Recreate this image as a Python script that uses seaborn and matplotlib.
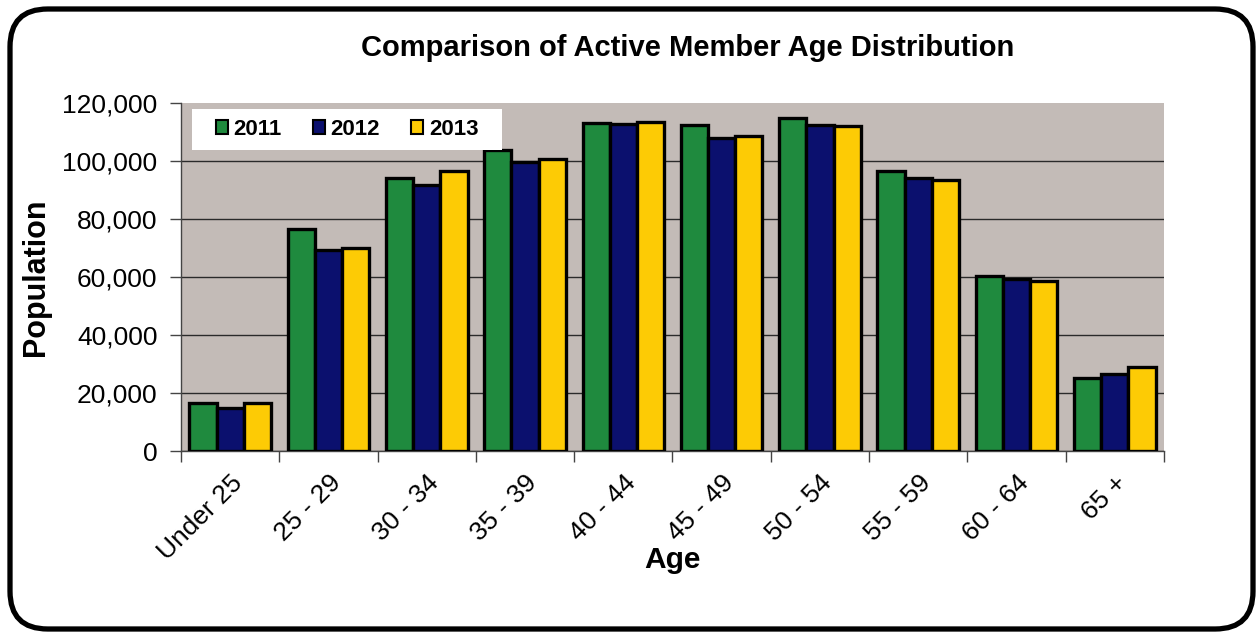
import numpy as np
import pandas as pd
import matplotlib
matplotlib.use("Agg")
import matplotlib.pyplot as plt
from matplotlib.patches import FancyBboxPatch, Rectangle
from matplotlib.ticker import FuncFormatter, FixedLocator
import seaborn as sns

# Active members by age band
age_groups = ["Under 25", "25 - 29", "30 - 34", "35 - 39", "40 - 44",
              "45 - 49", "50 - 54", "55 - 59", "60 - 64", "65 +"]
pop_2011 = [16400, 76700, 94000, 103700, 113100, 112300, 114700, 96600, 60400, 25300]
pop_2012 = [14700, 69300, 91600, 99700, 112600, 108000, 112300, 94000, 59300, 26600]
pop_2013 = [16700, 69900, 96400, 100800, 113400, 108800, 112000, 93500, 58600, 28900]
years = ["2011", "2012", "2013"]
colors = ["#1f8a3e", "#0b106e", "#fdcb05"]

df = pd.DataFrame({
    "Age": age_groups * 3,
    "Population": pop_2011 + pop_2012 + pop_2013,
    "Year": [y for y in years for _ in age_groups],
})

sns.set_theme(style="white")
plt.rcParams["font.family"] = ["Liberation Sans", "DejaVu Sans"]
plt.rcParams.update({"text.color": "black", "axes.labelcolor": "black",
                     "xtick.color": "black", "ytick.color": "black"})

fig = plt.figure(figsize=(12.59, 6.34), dpi=100)
ax = fig.add_axes([0.1438, 0.2886, 0.7807, 0.5489])

# rounded frame around the whole chart
frame = FancyBboxPatch((10 / 1259, 5 / 634), 1243 / 1259, 620 / 634,
                       boxstyle="round,pad=0,rounding_size=0.03",
                       transform=fig.transFigure, fill=False,
                       edgecolor="black", linewidth=3.8, zorder=0,
                       mutation_aspect=1259 / 634)
fig.patches.append(frame)

ax.set_facecolor("#c3bbb7")
sns.barplot(data=df, x="Age", y="Population", hue="Year", order=age_groups,
            hue_order=years, palette=colors, width=0.83, saturation=1,
            edgecolor="black", linewidth=2.4, errorbar=None, ax=ax, zorder=3)

ax.set_ylim(0, 120000)
ax.set_xlim(-0.5, len(age_groups) - 0.5)
ax.yaxis.set_major_locator(FixedLocator(np.arange(0, 120001, 20000)))
ax.yaxis.set_major_formatter(FuncFormatter(lambda v, p: f"{int(v):,}"))
ax.grid(axis="y", color="#2a2a2a", linewidth=1.0, zorder=1)
ax.set_axisbelow(True)
ax.yaxis.get_gridlines()[-1].set_visible(False)

for side in ["top", "right"]:
    ax.spines[side].set_visible(False)
for side in ["left", "bottom"]:
    ax.spines[side].set_color("#444444")
    ax.spines[side].set_linewidth(1.0)

ax.tick_params(axis="y", which="major", direction="out", length=8, width=1,
               color="#444444", labelsize=19, pad=9, left=True)
ax.tick_params(axis="x", which="major", length=0, labelsize=19, pad=14)
# tick marks between categories
ax.set_xticks(np.arange(-0.5, len(age_groups), 1.0), minor=True)
ax.tick_params(axis="x", which="minor", direction="out", length=8, width=1,
               color="#444444", bottom=True)
plt.setp(ax.get_xticklabels(), rotation=45, ha="right", rotation_mode="anchor")

ax.set_xlabel("Age", fontsize=21.5, fontweight="bold", labelpad=-13)
ax.set_ylabel("Population", fontsize=22, fontweight="bold", labelpad=8)
fig.text(0.546, 0.924, "Comparison of Active Member Age Distribution",
         ha="center", va="center", fontsize=21, fontweight="bold")

# white legend panel in the upper-left corner of the plot
panel = Rectangle((0.0112, 0.865), 0.3153, 0.118, transform=ax.transAxes,
                  facecolor="white", edgecolor="none", zorder=5)
ax.add_patch(panel)
leg = ax.legend(loc="center", ncol=3, frameon=False,
                bbox_to_anchor=(0.0112 + 0.3153 / 2, 0.865 + 0.118 / 2),
                prop={"weight": "bold", "size": 16},
                handlelength=0.55, handleheight=0.55, handletextpad=0.25,
                columnspacing=1.4, borderpad=0, borderaxespad=0)
leg.set_zorder(6)
for h in leg.legend_handles:
    h.set_edgecolor("black")
    h.set_linewidth(1.5)

fig.savefig("out.png", dpi=100, facecolor="white")
